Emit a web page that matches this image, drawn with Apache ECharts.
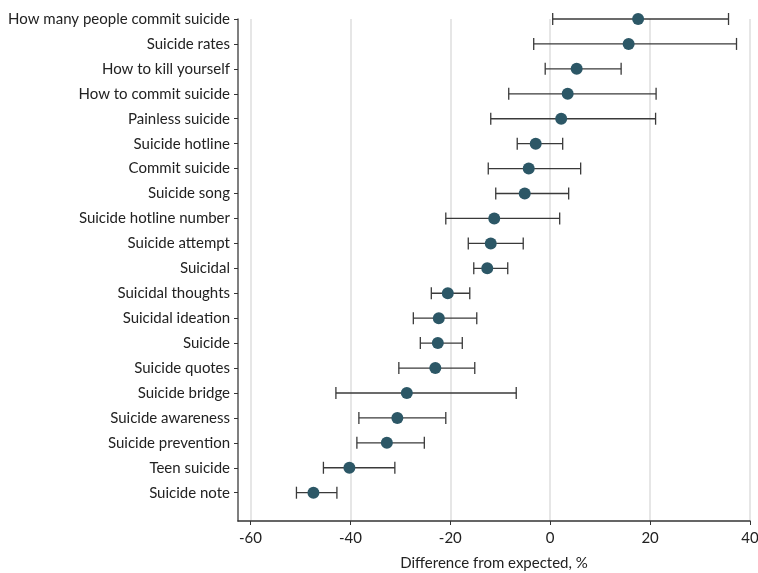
<!DOCTYPE html>
<html>
<head>
<meta charset="utf-8">
<script src="https://cdn.jsdelivr.net/npm/echarts@6/dist/echarts.min.js"></script>
<style>
  html, body { margin: 0; padding: 0; background: #fff; }
  #chart { width: 758px; height: 573px; }
</style>
</head>
<body>
<div id="chart"></div>
<script>
// search terms, top to bottom
var terms = ['How many people commit suicide', 'Suicide rates', 'How to kill yourself',
  'How to commit suicide', 'Painless suicide', 'Suicide hotline', 'Commit suicide',
  'Suicide song', 'Suicide hotline number', 'Suicide attempt', 'Suicidal',
  'Suicidal thoughts', 'Suicidal ideation', 'Suicide', 'Suicide quotes',
  'Suicide bridge', 'Suicide awareness', 'Suicide prevention', 'Teen suicide', 'Suicide note'];
// difference from expected, % (point estimate and 95% interval)
var estimate = [17.6, 15.7, 5.3, 3.5, 2.2, -2.9, -4.3, -5.1, -11.2, -11.9, -12.6,
  -20.5, -22.3, -22.5, -23.0, -28.7, -30.6, -32.7, -40.2, -47.4];
var lower = [0.5, -3.3, -1.0, -8.3, -11.9, -6.6, -12.4, -10.9, -20.9, -16.4, -15.3,
  -23.8, -27.4, -26.0, -30.3, -42.9, -38.3, -38.7, -45.4, -50.8];
var upper = [35.7, 37.3, 14.2, 21.2, 21.1, 2.5, 6.1, 3.7, 1.9, -5.4, -8.5,
  -16.1, -14.7, -17.6, -15.1, -6.8, -20.9, -25.2, -31.1, -42.7];
var xTicks = [-60, -40, -20, 0, 20, 40];

var rows = terms.map(function (t, i) { return i; });
var ciData = terms.map(function (t, i) { return [lower[i], upper[i], i]; });
var ptData = terms.map(function (t, i) { return [estimate[i], i]; });

var font = 'Lato';
var chart = echarts.init(document.getElementById('chart'));
var option = {
  animation: false,
  grid: { left: 238, right: 8, top: 19, bottom: 52, outerBoundsMode: 'none' },
  xAxis: {
    type: 'value',
    min: -62.5,
    max: 40,
    name: 'Difference from expected, %',
    nameLocation: 'middle',
    nameGap: 35,
    nameTextStyle: { fontFamily: font, fontSize: 15, color: '#222' },
    axisLine: { onZero: false, lineStyle: { color: '#333', width: 1.5 } },
    axisTick: { show: true, length: 4, customValues: xTicks, lineStyle: { color: '#333' } },
    axisLabel: { customValues: xTicks, fontFamily: font, fontSize: 15, color: '#222', margin: 10 },
    splitLine: { show: true, lineStyle: { color: '#dedede', width: 1.5 } }
  },
  yAxis: {
    type: 'value',
    inverse: true,
    min: 0,
    max: 20.135,
    axisLine: { show: true, onZero: false, lineStyle: { color: '#555', width: 1.5 } },
    axisTick: { show: true, length: 4, customValues: rows, lineStyle: { color: '#333' } },
    axisLabel: {
      customValues: rows,
      fontFamily: font, fontSize: 15, color: '#222', margin: 8,
      formatter: function (v) { return terms[Math.round(v)] || ''; }
    },
    splitLine: { show: false }
  },
  series: [
    {
      type: 'custom',
      data: ciData,
      encode: { x: [0, 1], y: 2 },
      renderItem: function (params, api) {
        var a = api.coord([api.value(0), api.value(2)]);
        var b = api.coord([api.value(1), api.value(2)]);
        var h = 6;
        var style = { stroke: '#3a3a3a', lineWidth: 1.3 };
        return {
          type: 'group',
          children: [
            { type: 'line', shape: { x1: a[0], y1: a[1], x2: b[0], y2: b[1] }, style: style },
            { type: 'line', shape: { x1: a[0], y1: a[1] - h, x2: a[0], y2: a[1] + h }, style: style },
            { type: 'line', shape: { x1: b[0], y1: b[1] - h, x2: b[0], y2: b[1] + h }, style: style }
          ]
        };
      },
      z: 2
    },
    {
      type: 'scatter',
      data: ptData,
      symbol: 'circle',
      symbolSize: 12,
      itemStyle: { color: '#2c5766', opacity: 1 },
      z: 3
    }
  ]
};
chart.setOption(option);
</script>
</body>
</html>
